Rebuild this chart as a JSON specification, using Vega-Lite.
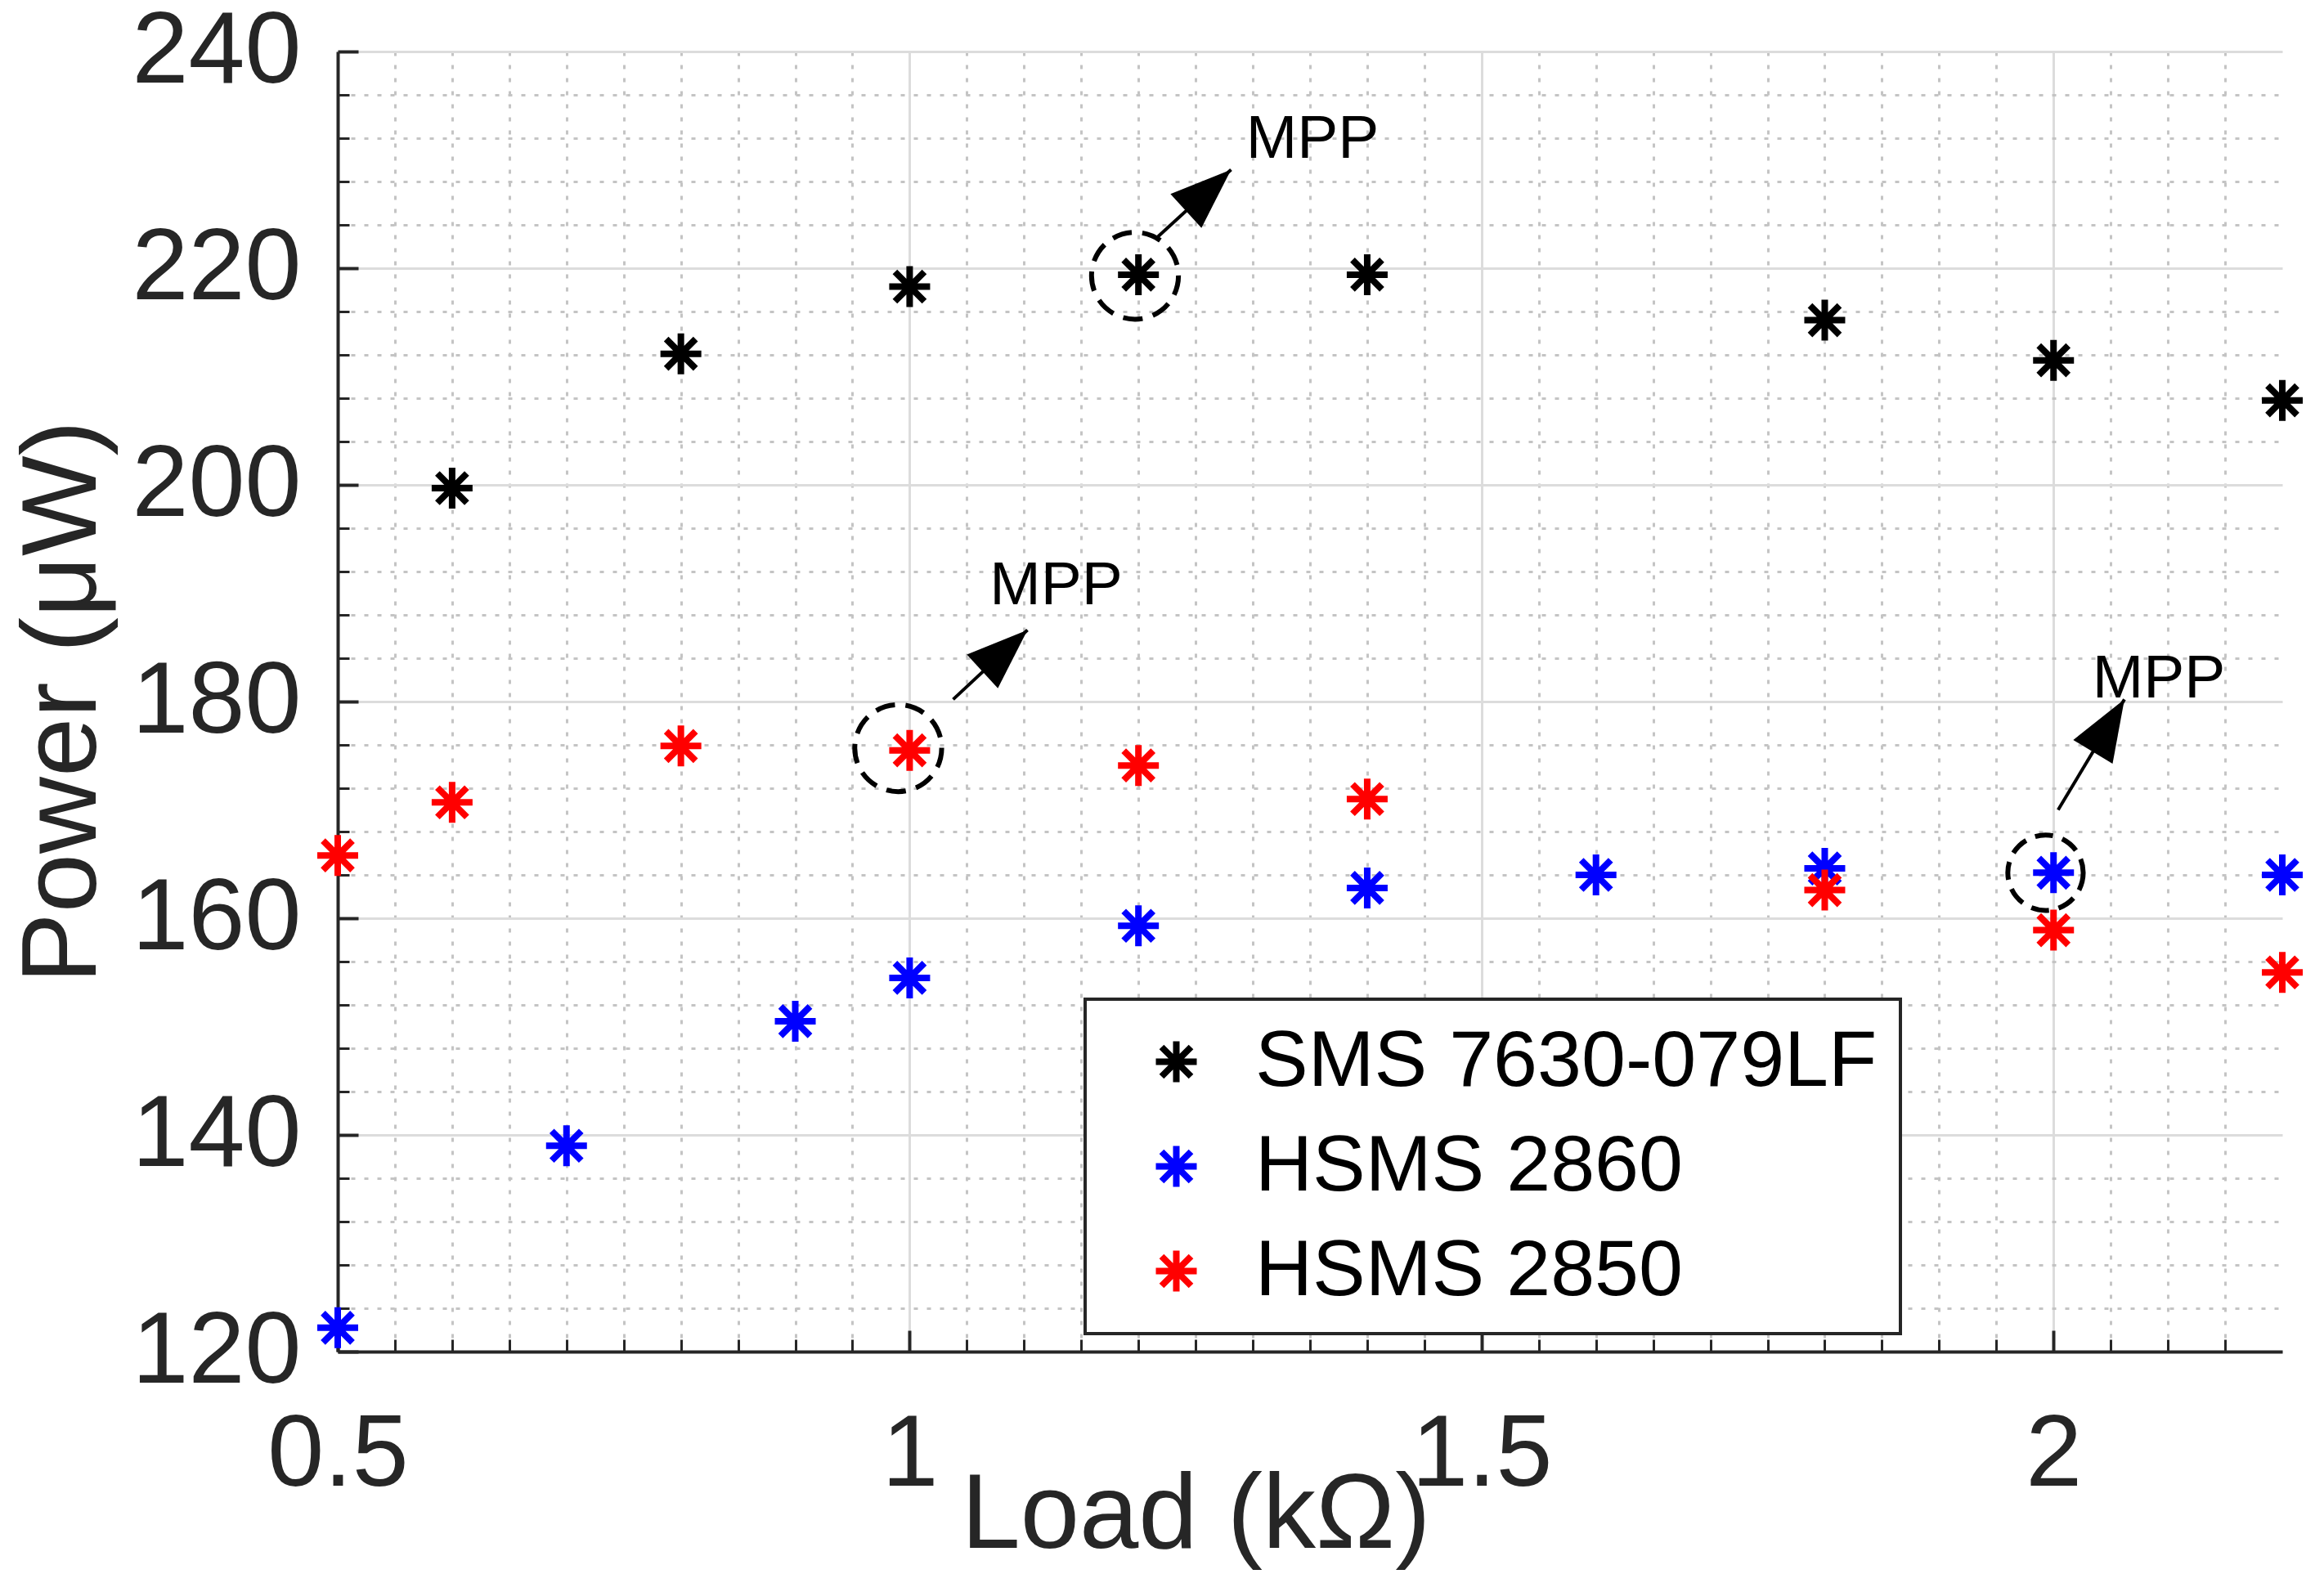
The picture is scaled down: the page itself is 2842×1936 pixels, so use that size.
{
  "$schema": "https://vega.github.io/schema/vega-lite/v6.json",
  "width": 2378,
  "height": 1590,
  "autosize": {"type": "none"},
  "padding": {"left": 413, "top": 63, "right": 51, "bottom": 283},
  "background": "white",
  "config": {
    "view": {"stroke": null},
    "font": "Liberation Sans",
    "legend": {"strokeWidth": 4}
  },
  "datasets": {
    "power": [
      {"load": 0.6, "power": 199.7, "diode": "SMS 7630-079LF"},
      {"load": 0.8, "power": 212.1, "diode": "SMS 7630-079LF"},
      {"load": 1.0, "power": 218.3, "diode": "SMS 7630-079LF"},
      {"load": 1.2, "power": 219.4, "diode": "SMS 7630-079LF"},
      {"load": 1.4, "power": 219.4, "diode": "SMS 7630-079LF"},
      {"load": 1.8, "power": 215.2, "diode": "SMS 7630-079LF"},
      {"load": 2.0, "power": 211.5, "diode": "SMS 7630-079LF"},
      {"load": 2.2, "power": 207.8, "diode": "SMS 7630-079LF"},
      {"load": 0.5, "power": 122.2, "diode": "HSMS 2860"},
      {"load": 0.7, "power": 139.0, "diode": "HSMS 2860"},
      {"load": 0.9, "power": 150.5, "diode": "HSMS 2860"},
      {"load": 1.0, "power": 154.5, "diode": "HSMS 2860"},
      {"load": 1.2, "power": 159.3, "diode": "HSMS 2860"},
      {"load": 1.4, "power": 162.8, "diode": "HSMS 2860"},
      {"load": 1.6, "power": 164.0, "diode": "HSMS 2860"},
      {"load": 1.8, "power": 164.6, "diode": "HSMS 2860"},
      {"load": 2.0, "power": 164.2, "diode": "HSMS 2860"},
      {"load": 2.2, "power": 164.0, "diode": "HSMS 2860"},
      {"load": 0.5, "power": 165.8, "diode": "HSMS 2850"},
      {"load": 0.6, "power": 170.7, "diode": "HSMS 2850"},
      {"load": 0.8, "power": 175.9, "diode": "HSMS 2850"},
      {"load": 1.0, "power": 175.5, "diode": "HSMS 2850"},
      {"load": 1.2, "power": 174.1, "diode": "HSMS 2850"},
      {"load": 1.4, "power": 171.0, "diode": "HSMS 2850"},
      {"load": 1.8, "power": 162.6, "diode": "HSMS 2850"},
      {"load": 2.0, "power": 158.9, "diode": "HSMS 2850"},
      {"load": 2.2, "power": 155.0, "diode": "HSMS 2850"}
    ],
    "mpp": [
      {"load": 1.197, "power": 219.3, "diode": "SMS 7630-079LF"},
      {"load": 0.99, "power": 175.7, "diode": "HSMS 2850"},
      {"load": 1.993, "power": 164.2, "diode": "HSMS 2860"}
    ],
    "arrows": [
      {"load": 1.217, "power": 222.9, "load_end": 1.281, "power_end": 229.1, "diode": "SMS 7630-079LF"},
      {"load": 1.038, "power": 180.2, "load_end": 1.103, "power_end": 186.6, "diode": "HSMS 2850"},
      {"load": 2.004, "power": 170.0, "load_end": 2.062, "power_end": 180.2, "diode": "HSMS 2860"}
    ],
    "labels": [
      {"load": 1.294, "power": 230.2, "text": "MPP"},
      {"load": 1.07, "power": 189.0, "text": "MPP"},
      {"load": 2.034, "power": 180.4, "text": "MPP"}
    ]
  },
  "layer": [
    {
      "data": {"name": "power"},
      "mark": {"type": "point", "opacity": 0},
      "encoding": {
        "x": {
          "field": "load", "type": "quantitative",
          "scale": {"domain": [0.5, 2.2], "nice": false, "zero": false},
          "axis": {
            "orient": "bottom", "title": null, "labels": false, "domain": false,
            "values": [0.55, 0.6, 0.65, 0.7, 0.75, 0.8, 0.85, 0.9, 0.95, 1.05, 1.1, 1.15, 1.2, 1.25, 1.3, 1.35, 1.4, 1.45, 1.55, 1.6, 1.65, 1.7, 1.75, 1.8, 1.85, 1.9, 1.95, 2.05, 2.1, 2.15],
            "tickSize": -15, "tickWidth": 3, "tickColor": "#262626",
            "grid": true, "gridColor": "#c4c4c4", "gridWidth": 3, "gridDash": [5, 11]
          }
        },
        "y": {
          "field": "power", "type": "quantitative",
          "scale": {"domain": [120, 240], "nice": false, "zero": false},
          "axis": {
            "orient": "left", "title": null, "labels": false, "domain": false,
            "values": [124, 128, 132, 136, 144, 148, 152, 156, 164, 168, 172, 176, 184, 188, 192, 196, 204, 208, 212, 216, 224, 228, 232, 236],
            "tickSize": -14, "tickWidth": 3, "tickColor": "#262626",
            "grid": true, "gridColor": "#c4c4c4", "gridWidth": 3, "gridDash": [5, 11]
          }
        }
      }
    },
    {
      "data": {"name": "power"},
      "mark": {
        "type": "point",
        "shape": "M0,-1L0,1M-1,0L1,0M-0.72,-0.72L0.72,0.72M-0.72,0.72L0.72,-0.72",
        "filled": false, "size": 2500, "strokeWidth": 8, "opacity": 1
      },
      "encoding": {
        "x": {
          "field": "load", "type": "quantitative",
          "scale": {"domain": [0.5, 2.2], "nice": false, "zero": false},
          "axis": {
            "orient": "bottom", "values": [0.5, 1, 1.5, 2], "format": "~g",
            "title": "Load (kΩ)", "titleFontSize": 130, "titleFontWeight": "normal", "titleColor": "#262626",
            "titleX": 1049, "titleY": 239, "titleAlign": "center", "titleBaseline": "alphabetic",
            "labelFontSize": 124, "labelColor": "#262626", "labelPadding": 91, "labelBaseline": "top",
            "labelFlush": false, "labelOverlap": false, "labelLimit": 1000,
            "tickSize": -26, "tickWidth": 4, "tickColor": "#262626",
            "domain": true, "domainColor": "#262626", "domainWidth": 4,
            "grid": true, "gridColor": "#dcdcdc", "gridWidth": 3
          }
        },
        "y": {
          "field": "power", "type": "quantitative",
          "scale": {"domain": [120, 240], "nice": false, "zero": false},
          "axis": {
            "orient": "left", "values": [120, 140, 160, 180, 200, 220, 240],
            "title": "Power (μW)", "titleFontSize": 130, "titleFontWeight": "normal", "titleColor": "#262626",
            "titleX": -297, "titleY": 795, "titleAngle": -90, "titleAlign": "center", "titleBaseline": "alphabetic",
            "labelFontSize": 124, "labelColor": "#262626", "labelPadding": 70,
            "labelFlush": false, "labelOverlap": false, "labelLimit": 1000,
            "tickSize": -25, "tickWidth": 4, "tickColor": "#262626",
            "domain": true, "domainColor": "#262626", "domainWidth": 4,
            "grid": true, "gridColor": "#dcdcdc", "gridWidth": 3
          }
        },
        "color": {
          "field": "diode", "type": "nominal",
          "scale": {"domain": ["SMS 7630-079LF", "HSMS 2860", "HSMS 2850"], "range": ["#000000", "#0000ff", "#ff0000"]},
          "legend": {
            "orient": "none", "legendX": 914, "legendY": 1159, "title": null,
            "padding": 28, "strokeColor": "#262626", "fillColor": "white",
            "labelFontSize": 97, "labelColor": "#000000", "labelLimit": 2000, "labelOffset": 48,
            "symbolType": "M0,-1L0,1M-1,0L1,0M-0.72,-0.72L0.72,0.72M-0.72,0.72L0.72,-0.72",
            "symbolSize": 2500, "symbolStrokeWidth": 8, "symbolOffset": 35, "rowPadding": 30
          }
        }
      }
    },
    {
      "data": {"name": "mpp"},
      "transform": [{"filter": "datum.load < 1.5"}],
      "mark": {"type": "point", "shape": "circle", "filled": false, "size": 11300, "stroke": "#000000", "strokeWidth": 6, "strokeDash": [24, 13], "opacity": 1},
      "encoding": {
        "x": {"field": "load", "type": "quantitative", "scale": {"domain": [0.5, 2.2], "nice": false, "zero": false}, "axis": null},
        "y": {"field": "power", "type": "quantitative", "scale": {"domain": [120, 240], "nice": false, "zero": false}, "axis": null}
      }
    },
    {
      "data": {"name": "mpp"},
      "transform": [{"filter": "datum.load > 1.5"}],
      "mark": {"type": "point", "shape": "circle", "filled": false, "size": 8500, "stroke": "#000000", "strokeWidth": 6, "strokeDash": [22, 12], "opacity": 1},
      "encoding": {
        "x": {"field": "load", "type": "quantitative", "scale": {"domain": [0.5, 2.2], "nice": false, "zero": false}, "axis": null},
        "y": {"field": "power", "type": "quantitative", "scale": {"domain": [120, 240], "nice": false, "zero": false}, "axis": null}
      }
    },
    {
      "data": {"name": "arrows"},
      "mark": {"type": "rule", "stroke": "#000000", "strokeWidth": 4},
      "encoding": {
        "x": {"field": "load", "type": "quantitative", "scale": {"domain": [0.5, 2.2], "nice": false, "zero": false}, "axis": null},
        "y": {"field": "power", "type": "quantitative", "scale": {"domain": [120, 240], "nice": false, "zero": false}, "axis": null},
        "x2": {"field": "load_end"},
        "y2": {"field": "power_end"}
      }
    },
    {
      "data": {"name": "arrows"},
      "transform": [{"filter": "datum.load < 1.5"}],
      "mark": {"type": "point", "shape": "M0,0L0.75,2L-0.75,2Z", "filled": true, "fill": "#000000", "strokeWidth": 0, "size": 5600, "angle": 47.5, "opacity": 1},
      "encoding": {
        "x": {"field": "load_end", "type": "quantitative", "scale": {"domain": [0.5, 2.2], "nice": false, "zero": false}, "axis": null},
        "y": {"field": "power_end", "type": "quantitative", "scale": {"domain": [120, 240], "nice": false, "zero": false}, "axis": null}
      }
    },
    {
      "data": {"name": "arrows"},
      "transform": [{"filter": "datum.load > 1.5"}],
      "mark": {"type": "point", "shape": "M0,0L0.75,2L-0.75,2Z", "filled": true, "fill": "#000000", "strokeWidth": 0, "size": 5600, "angle": 31, "opacity": 1},
      "encoding": {
        "x": {"field": "load_end", "type": "quantitative", "scale": {"domain": [0.5, 2.2], "nice": false, "zero": false}, "axis": null},
        "y": {"field": "power_end", "type": "quantitative", "scale": {"domain": [120, 240], "nice": false, "zero": false}, "axis": null}
      }
    },
    {
      "data": {"name": "labels"},
      "mark": {"type": "text", "align": "left", "baseline": "alphabetic", "fontSize": 75, "color": "#000000"},
      "encoding": {
        "x": {"field": "load", "type": "quantitative", "scale": {"domain": [0.5, 2.2], "nice": false, "zero": false}, "axis": null},
        "y": {"field": "power", "type": "quantitative", "scale": {"domain": [120, 240], "nice": false, "zero": false}, "axis": null},
        "text": {"field": "text"}
      }
    }
  ],
  "resolve": {"axis": {"x": "independent", "y": "independent"}}
}
